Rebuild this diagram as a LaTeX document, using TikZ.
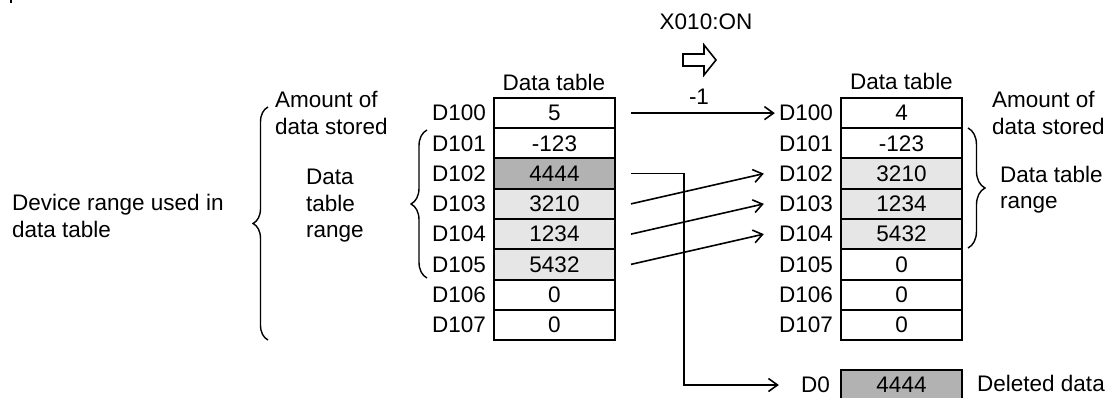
\documentclass[tikz,border=0pt]{standalone}
\usepackage{fontspec}
\setmainfont{Liberation Sans}
\usetikzlibrary{arrows.meta,decorations.pathreplacing,calc}
\definecolor{graydark}{HTML}{B2B2B2}
\definecolor{graylight}{HTML}{E6E6E6}
\begin{document}
\begin{tikzpicture}[x=1pt,y=-1pt, font=\fontsize{22.5}{26.5}\selectfont,
  cell/.style={draw, line width=2pt, minimum width=121pt, minimum height=30.25pt, inner sep=0pt},
  dark/.style={cell, fill=graydark},
  light/.style={cell, fill=graylight},
  lab/.style={anchor=east, inner sep=0pt},
  txt/.style={anchor=north west, inner sep=0pt, align=left},
  conn/.style={line width=1.6pt, -{Straight Barb[length=9pt,width=13pt,line width=1.6pt]}},
  br/.style={line width=1.4pt, decorate, decoration={brace, amplitude=#1}}]
\useasboundingbox (0,0) rectangle (1106,398);
\draw[line width=2pt] (11,0) -- (11,3.5);
% left table
\foreach \i/\v/\s in {0/5/cell,1/-123/cell,2/4444/dark,3/3210/light,4/1234/light,5/5432/light,6/0/cell,7/0/cell} {
  \node[\s] (L\i) at (554.5, 113.125+30.25*\i) {\v};
  \pgfmathtruncatemacro\n{100+\i}
  \node[lab] (LL\i) at ($(L\i.west)+(-7,0)$) {D\n};
}
% right table
\foreach \i/\v/\s in {0/4/cell,1/-123/cell,2/3210/light,3/1234/light,4/5432/light,5/0/cell,6/0/cell,7/0/cell} {
  \node[\s] (R\i) at (901.5, 113.125+30.25*\i) {\v};
  \pgfmathtruncatemacro\n{100+\i}
  \node[lab] (RL\i) at ($(R\i.west)+(-7,0)$) {D\n};
}
\node[dark] (Z) at (901.5,385) {4444};
\node[lab] (ZL) at ($(Z.west)+(-10,0)$) {D0};
% headers
\node[anchor=base, inner sep=0pt] (hL) at (554,90.5) {Data table};
\node[anchor=base, inner sep=0pt] (hR) at (901.5,89.5) {Data table};
\node[anchor=base, inner sep=0pt] (x10) at (706,30) {X010:ON};
\node[anchor=base, inner sep=0pt] (m1) at (699,105) {-1};
% hollow arrow
\draw[line width=1.6pt, line join=miter] (683,54) -- (704,54) -- (704,45) -- (716,60) -- (704,75) -- (704,66) -- (683,66) -- cycle;
% connectors
\draw[conn] ($(L0.east)+(15,0)$) -- ($(RL0.west)+(-4,0)$);
\draw[conn] ($(L3.east)+(15,0)$) -- ($(RL2.west)+(-15,0)$);
\draw[conn] ($(L4.east)+(15,0)$) -- ($(RL3.west)+(-15,0)$);
\draw[conn] ($(L5.east)+(15,0)$) -- ($(RL4.west)+(-15,0)$);
\draw[conn] ($(L2.east)+(15,0)$) -- ++(53,0) |- ($(ZL.west)+(-22,0)$);
% braces
\draw[br=15pt] (268,340) -- (268,107);
\draw[br=16pt] (427,278) -- (427,130);
\draw[br=17pt] (968,128) -- (968,248);
% texts
\node[txt] (amtL) at (275,91.5) {Amount of\\data stored};
\node[txt] (dtrL) at (306,169) {Data\\table\\range};
\node[txt] (devr) at (12,194) {Device range used in\\data table};
\node[txt] (amtR) at (992,91.5) {Amount of\\data stored};
\node[txt] (dtrR) at (1000,165.7) {Data table\\range};
\node[anchor=base west, inner sep=0pt] (del) at (977,391.7) {Deleted data};
\end{tikzpicture}
\end{document}
